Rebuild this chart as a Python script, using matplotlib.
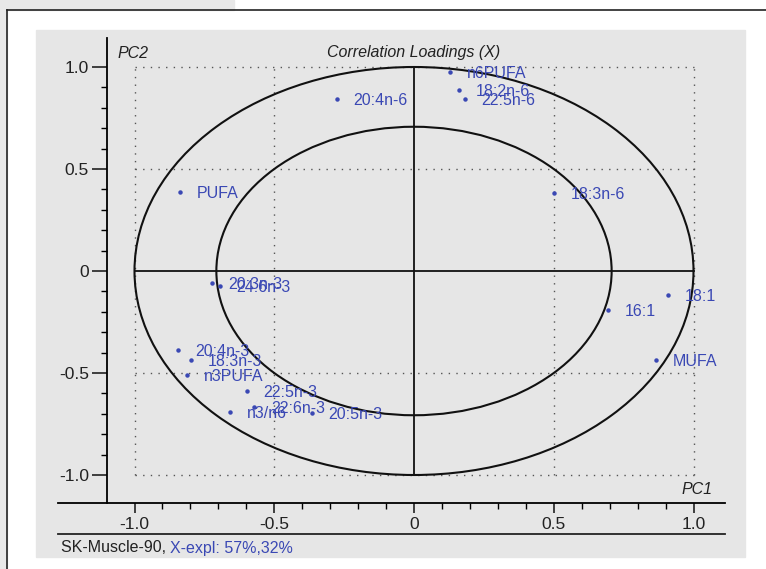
import numpy as np
import matplotlib
matplotlib.use("Agg")
import matplotlib.pyplot as plt
from matplotlib.patches import Rectangle, Circle
from matplotlib.lines import Line2D
from matplotlib.ticker import FixedLocator, FixedFormatter

# loadings
names = ["n6PUFA", "18:2n-6", "22:5n-6", "20:4n-6", "PUFA", "20:3n-3", "24:6n-3",
         "18:3n-6", "18:1", "16:1", "MUFA", "20:4n-3", "18:3n-3", "n3PUFA",
         "22:5n-3", "n3/n6", "22:6n-3", "20:5n-3"]
pc1 = [0.129, 0.161, 0.182, -0.276, -0.837, -0.723, -0.694,
       0.501, 0.909, 0.694, 0.866, -0.844, -0.798, -0.812,
       -0.598, -0.658, -0.572, -0.365]
pc2 = [0.975, 0.887, 0.843, 0.843, 0.387, -0.059, -0.074,
       0.383, -0.118, -0.191, -0.436, -0.387, -0.436, -0.510,
       -0.588, -0.691, -0.667, -0.696]

major_ticks = [-1.0, -0.5, 0.0, 0.5, 1.0]
major_labels = ["-1.0", "-0.5", "0", "0.5", "1.0"]
minor_ticks = [round(v, 1) for v in np.arange(-1.0, 1.01, 0.1)]

blue = "#3a48b4"
panel = "#e6e6e6"
W, H = 766, 569

plt.rcParams['font.family'] = ['Liberation Sans Narrow', 'Liberation Sans', 'DejaVu Sans']

fig = plt.figure(figsize=(W / 100, H / 100), dpi=100)
fig.patch.set_facecolor("white")

def px(x, y):
    return x / W, 1 - y / H

# background boxes and frame
fig.patches.append(Rectangle(px(0, 10), 234 / W, 10 / H, transform=fig.transFigure,
                             color="#e8e8e8", zorder=-2))
fig.patches.append(Rectangle(px(0, H), 7 / W, (H - 10) / H, transform=fig.transFigure,
                             color="#e8e8e8", zorder=-2))
fig.patches.append(Rectangle(px(36, 557), (745 - 36) / W, (557 - 30) / H,
                             transform=fig.transFigure, color=panel, zorder=-2))
fig.lines.append(Line2D([7 / W, 1], [1 - 10 / H, 1 - 10 / H], transform=fig.transFigure,
                        color="#222222", lw=1.2, zorder=-1))
fig.lines.append(Line2D([7 / W, 7 / W], [0, 1 - 10 / H], transform=fig.transFigure,
                        color="#222222", lw=1.2, zorder=-1))
fig.lines.append(Line2D([58 / W, 725 / W], [1 - 534 / H, 1 - 534 / H],
                        transform=fig.transFigure, color="#222222", lw=1.3, zorder=-1))

# axes mapped so that x=0 -> 414 px, y=0 -> 271 px
ax_l, ax_r, ax_t, ax_b = 58, 725, 38, 503
sx, sy = 279.5, 204.0
ax = fig.add_axes([ax_l / W, 1 - ax_b / H, (ax_r - ax_l) / W, (ax_b - ax_t) / H])
ax.set_zorder(1)
ax.set_facecolor("none")
ax.set_xlim((ax_l - 414) / sx, (ax_r - 414) / sx)
ax.set_ylim((271 - ax_b) / sy, (271 - ax_t) / sy)

for s in ["top", "right"]:
    ax.spines[s].set_visible(False)
ax.spines["left"].set_position(("data", (107 - 414) / sx))
ax.spines["left"].set_linewidth(1.3)
ax.spines["bottom"].set_linewidth(1.3)

ax.xaxis.set_major_locator(FixedLocator(major_ticks))
ax.xaxis.set_major_formatter(FixedFormatter(major_labels))
ax.yaxis.set_major_locator(FixedLocator(major_ticks))
ax.yaxis.set_major_formatter(FixedFormatter(major_labels))
ax.xaxis.set_minor_locator(FixedLocator(minor_ticks))
ax.yaxis.set_minor_locator(FixedLocator(minor_ticks))
ax.tick_params(which="major", direction="out", length=9, width=1.2, labelsize=12.5,
               colors="#222222")
ax.tick_params(which="minor", direction="out", length=4, width=1.0)
ax.tick_params(axis="x", which="major", length=7, pad=3)
ax.tick_params(axis="y", which="major", length=11, pad=2)

# dotted grid
for v in major_ticks:
    if v == 0:
        continue
    ax.plot([-1, 1], [v, v], ls=(0, (1, 4.5)), color="#555555", lw=1.0, zorder=1)
    ax.plot([v, v], [-1, 1], ls=(0, (1, 4.5)), color="#555555", lw=1.0, zorder=1)

# origin cross and circles
ax.plot([-1, 1], [0, 0], color="#111111", lw=1.3, zorder=2)
ax.plot([0, 0], [-1, 1], color="#111111", lw=1.3, zorder=2)
ax.add_patch(Circle((0, 0), 1.0, fill=False, ec="#111111", lw=1.5, zorder=2))
ax.add_patch(Circle((0, 0), np.sqrt(0.5), fill=False, ec="#111111", lw=1.5, zorder=2))

# points and labels
ax.plot(pc1, pc2, ls="none", marker="o", ms=2.2, color=blue, zorder=3)
for n, x, y in zip(names, pc1, pc2):
    ax.annotate(n, (x, y), xytext=(12, -1), textcoords="offset points",
                ha="left", va="center", fontsize=11.5, color=blue, zorder=4)

# titles
fig.text(414 / W, 1 - 52 / H, "Correlation Loadings (X)", ha="center", va="center",
         fontsize=11.5, style="italic", color="#222222")
fig.text(117 / W, 1 - 53 / H, "PC2", ha="left", va="center",
         fontsize=11.5, style="italic", color="#222222")
fig.text(712 / W, 1 - 490 / H, "PC1", ha="right", va="center",
         fontsize=11.5, style="italic", color="#222222")

t1 = fig.text(61 / W, 1 - 548 / H, "SK-Muscle-90, ", ha="left", va="center",
              fontsize=11.5, color="#222222")
fig.canvas.draw()
bb = t1.get_window_extent()
fig.text(bb.x1 / W, 1 - 548 / H, "X-expl: 57%,32%", ha="left", va="center",
         fontsize=11.5, color=blue)

fig.savefig("out.png", dpi=100)
